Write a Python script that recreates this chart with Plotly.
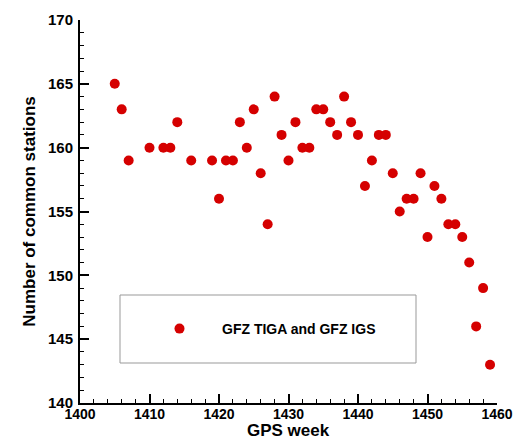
import plotly.graph_objects as go

gps_week = [1405, 1406, 1407, 1410, 1412, 1413, 1414, 1416, 1419, 1420, 1421, 1422,
            1423, 1424, 1425, 1426, 1427, 1428, 1429, 1430, 1431, 1432, 1433, 1434,
            1435, 1436, 1437, 1438, 1439, 1440, 1441, 1442, 1443, 1444, 1445, 1446,
            1447, 1448, 1449, 1450, 1451, 1452, 1453, 1454, 1455, 1456, 1457, 1458, 1459]
common_stations = [165, 163, 159, 160, 160, 160, 162, 159, 159, 156, 159, 159,
                   162, 160, 163, 158, 154, 164, 161, 159, 162, 160, 160, 163,
                   163, 162, 161, 164, 162, 161, 157, 159, 161, 161, 158, 155,
                   156, 156, 158, 153, 157, 156, 154, 154, 153, 151, 146, 149, 143]
series_name = "GFZ TIGA and GFZ IGS"
x_ticks = [1400, 1410, 1420, 1430, 1440, 1450, 1460]
y_ticks = [140, 145, 150, 155, 160, 165, 170]

FONT = "Liberation Sans, Arial, Helvetica, sans-serif"

W, H = 519, 440
PL, PR, PT, PB = 80, 497, 20, 403
PW, PH = PR - PL, PB - PT


def px(xw):
    return (xw - PL) / PW


def py(yw):
    return (PB - yw) / PH


fig = go.Figure()
fig.add_trace(go.Scatter(
    x=gps_week, y=common_stations, mode="markers", name="<b>" + series_name + "</b>",
    marker=dict(color="#d50000", size=10, line=dict(width=0)),
))

axis_common = dict(
    showline=True, linecolor="black", linewidth=2, mirror=False,
    ticks="inside", ticklen=9, tickwidth=2, tickcolor="black",
    showgrid=False, zeroline=False,
)

fig.update_xaxes(
    range=[1400, 1460], tickvals=x_ticks, ticktext=["<b>%d</b>" % v for v in x_ticks],
    minor=dict(ticks="inside", dtick=2, ticklen=4, tickwidth=1, tickcolor="black", showgrid=False),
    ticklabelstandoff=-3,
    tickfont=dict(family=FONT, size=14, color="black"),
    **axis_common,
)
fig.update_yaxes(
    range=[140, 170], tickvals=y_ticks, ticktext=["<b>%d</b>" % v for v in y_ticks],
    minor=dict(ticks="inside", dtick=1, ticklen=4, tickwidth=1, tickcolor="black", showgrid=False),
    title=dict(text="<b>Number of common stations</b>", font=dict(family=FONT, size=17, color="black"), standoff=8),
    ticklabelstandoff=2,
    tickfont=dict(family=FONT, size=15, color="black"),
    **axis_common,
)

fig.update_layout(
    width=W, height=H,
    margin=dict(l=PL, r=W - PR, t=PT, b=H - PB, autoexpand=False),
    paper_bgcolor="white", plot_bgcolor="white",
    showlegend=True,
    legend=dict(
        x=px(178 - 41), y=py(329), xanchor="left", yanchor="middle",
        bgcolor="rgba(0,0,0,0)", borderwidth=0, itemwidth=75,
        font=dict(family=FONT, size=14, color="black"),
    ),
    annotations=[dict(text="<b>GPS week</b>", xref="paper", yref="paper",
                      x=px(288), y=py(431), xanchor="center", yanchor="middle",
                      showarrow=False, borderpad=0,
                      font=dict(family=FONT, size=17, color="black"))],
    shapes=[dict(type="rect", xref="paper", yref="paper",
                 x0=px(120), x1=px(416), y0=py(363), y1=py(295),
                 line=dict(color="#999999", width=1), fillcolor="rgba(0,0,0,0)")],
)

fig.write_html("out.html", config={"displayModeBar": False},
               post_script="document.body.style.margin='0';document.body.style.overflow='hidden';")
